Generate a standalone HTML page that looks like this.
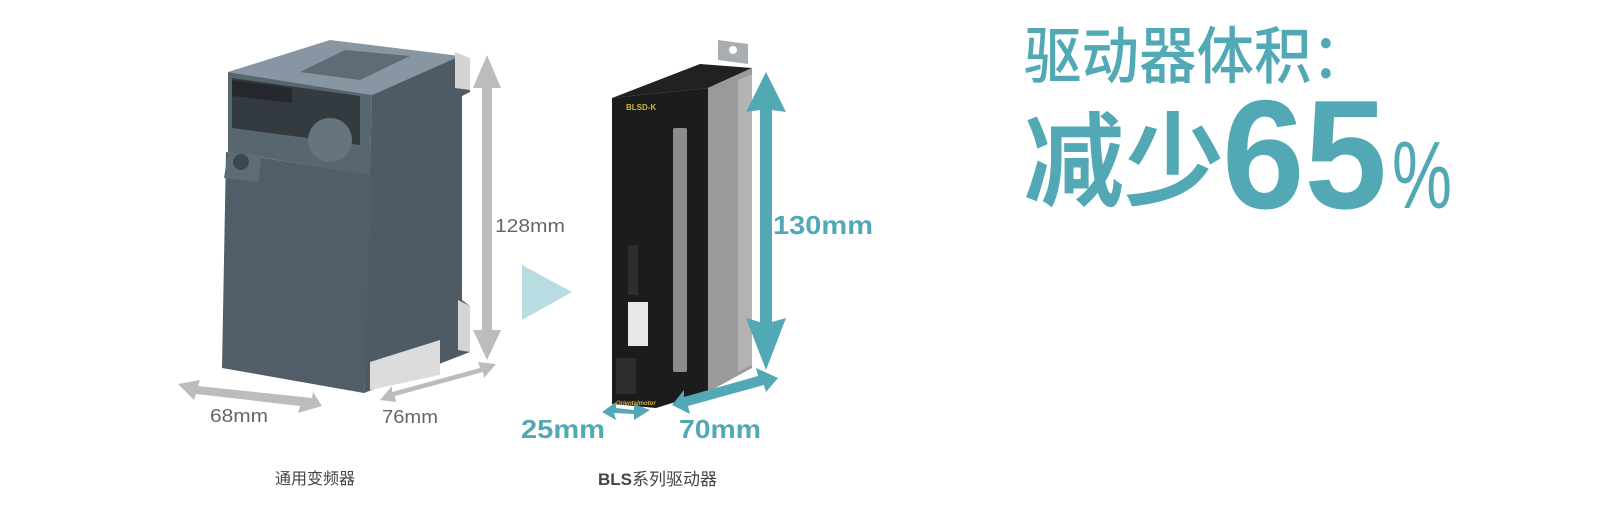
<!DOCTYPE html>
<html><head><meta charset="utf-8"><style>
html,body{margin:0;padding:0;background:#fff;width:1600px;height:520px;overflow:hidden}
svg{display:block}
</style></head><body>
<svg width="1600" height="520" viewBox="0 0 1600 520" xmlns="http://www.w3.org/2000/svg">
<!-- Inverter -->
<polygon points="228,72 330,40 460,56 372,95" fill="#8796a2"/>
<polygon points="300,72 345,50 410,56 360,80" fill="#5f6b75"/>
<polygon points="372,95 460,56 470,58 470,92 462,96 462,300 470,306 470,352 364,393" fill="#4e5a64"/>
<polygon points="455,52 470,58 470,90 455,88" fill="#d4d4d4"/>
<polygon points="458,300 470,306 470,352 458,350" fill="#d4d4d4"/>
<polygon points="370,362 440,340 440,375 370,390" fill="#dcdcdc"/>
<polygon points="228,72 372,95 370,175 228,152" fill="#586670"/>
<polygon points="232,78 360,96 360,145 232,128" fill="#333a40"/>
<polygon points="232,80 292,88 292,103 232,96" fill="#25292d"/>
<circle cx="330" cy="140" r="22" fill="#66747e"/>
<polygon points="226,152 372,175 364,393 222,368" fill="#515e69"/>
<polygon points="228,152 262,156 258,182 224,178" fill="#5f6c76"/>
<circle cx="241" cy="162" r="8" fill="#3d474f"/>
<!-- Inverter arrows -->
<g fill="#bcbcbc">
<polygon points="487,55 501,88 492,88 492,330 501,330 487,360 473,330 482,330 482,88 473,88"/>
<polygon points="178,384 200,380 198,386 312,398 313,392 322,406 298,413 300,406 196,394 194,400"/>
<polygon points="380,400 392,386 392,392 480,368 478,362 496,364 484,378 483,372 395,396 396,402"/>
</g>
<g font-family="Liberation Sans, sans-serif" fill="#666" font-size="18">
<text x="495" y="232" textLength="70" lengthAdjust="spacingAndGlyphs">128mm</text>
<text x="210" y="422" textLength="58" lengthAdjust="spacingAndGlyphs">68mm</text>
<text x="382" y="423" textLength="56" lengthAdjust="spacingAndGlyphs">76mm</text>
</g>
<text x="315" y="484" font-family="Liberation Sans, 'Noto Sans CJK SC', sans-serif" font-size="16" fill="#444" text-anchor="middle">通用变频器</text>
<!-- Play triangle -->
<polygon points="522,265 572,292 522,320" fill="#b7dde2"/>
<!-- BLS driver -->
<polygon points="718,40 748,44 748,64 718,60" fill="#a9adb0"/>
<circle cx="733" cy="50" r="4" fill="#fff"/>
<polygon points="612,98 700,64 752,68 708,88" fill="#1f2123"/>
<polygon points="708,88 752,68 752,368 708,392" fill="#9a9a9a"/>
<polygon points="738,80 752,74 752,365 738,372" fill="#b3b3b3"/>
<polygon points="612,98 708,88 708,392 656,408 612,404" fill="#1b1c1e"/>
<rect x="673" y="128" width="14" height="244" rx="2" fill="#8c8c8c"/>
<text x="626" y="110" font-family="Liberation Sans, sans-serif" font-size="8" font-weight="bold" fill="#d4b33a">BLSD-K</text>
<rect x="628" y="245" width="10" height="50" fill="#2c2e30"/>
<rect x="628" y="302" width="20" height="44" fill="#e8e8e8"/>
<rect x="616" y="358" width="20" height="36" fill="#2c2e30"/>
<text x="616" y="405" font-family="Liberation Sans, sans-serif" font-size="6" font-weight="bold" font-style="italic" fill="#d4b33a">Orientalmotor</text>
<!-- Teal arrows -->
<g fill="#52a8b5">
<polygon points="766,72 786,112 772,110 772,322 786,318 766,370 746,318 760,322 760,110 746,112"/>
<polygon points="672,405 684,390 684,397 758,376 756,368 778,378 766,392 764,385 688,406 690,414"/>
<polygon points="602,412 616,402 616,408 634,410 634,404 650,410 634,420 634,414 614,413 616,420"/>
</g>
<g font-family="Liberation Sans, sans-serif" fill="#52a8b5" font-size="26" font-weight="bold">
<text x="773" y="234" textLength="100" lengthAdjust="spacingAndGlyphs">130mm</text>
<text x="521" y="438" textLength="84" lengthAdjust="spacingAndGlyphs">25mm</text>
<text x="679" y="438" textLength="82" lengthAdjust="spacingAndGlyphs">70mm</text>
</g>
<text x="598" y="485" font-family="Liberation Sans, 'Noto Sans CJK SC', sans-serif" font-size="17" fill="#444"><tspan font-weight="bold">BLS</tspan>系列驱动器</text>
<!-- Headline -->
<g fill="#52a8b5" font-family="Liberation Sans, 'Noto Sans CJK SC', sans-serif">
<text x="1024" y="78" font-size="62" font-weight="500" textLength="345" lengthAdjust="spacingAndGlyphs">驱动器体积：</text>
<text x="1024" y="198" font-size="102" font-weight="bold" textLength="200" lengthAdjust="spacingAndGlyphs">减少</text>
<text x="1222" y="208" font-size="155" font-weight="bold" textLength="165" lengthAdjust="spacingAndGlyphs">65</text>
<text x="1392" y="208" font-size="96" textLength="60" lengthAdjust="spacingAndGlyphs">%</text>
</g>
</svg>
</body></html>
